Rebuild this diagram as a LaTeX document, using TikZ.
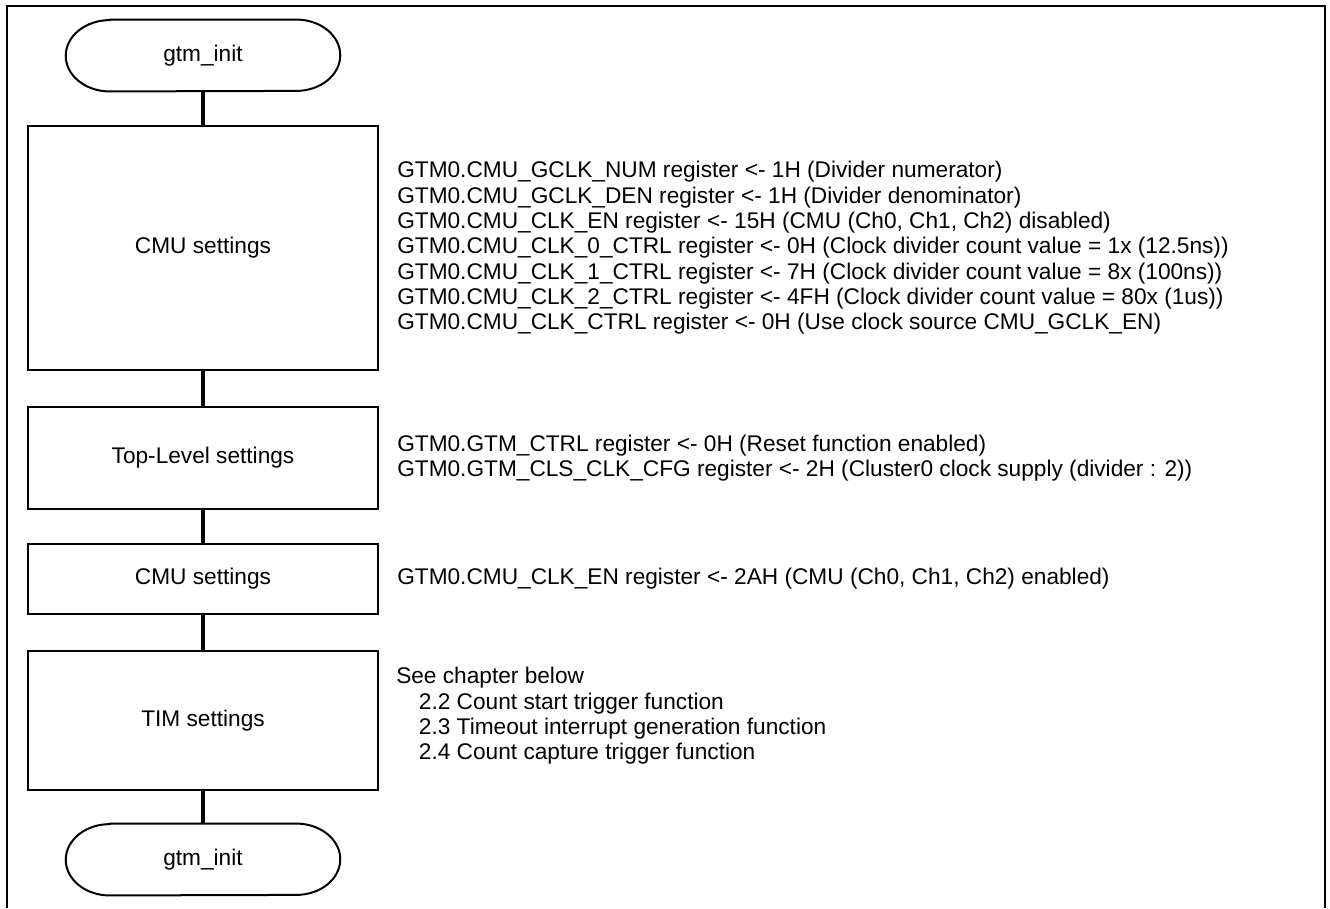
\documentclass[tikz,border=0pt]{standalone}
\usepackage{fontspec}
\setmainfont{Liberation Sans}
\begin{document}
\begin{tikzpicture}[x=0.75pt,y=-0.75pt,
  every node/.style={font=\fontsize{17pt}{19pt}\selectfont, inner sep=0pt},
  procbox/.style={draw, line width=1.5pt, minimum width=262.5pt},
  termshape/.style={minimum width=205.5pt, minimum height=53.5pt},
  link/.style={line width=2.6pt},
  note/.style={anchor=west, align=left}
]
\useasboundingbox (0,0) rectangle (1330,908);

% open frame around the chart
\draw[line width=2.2pt] (7,908) -- (7,6) -- (1325,6) -- (1325,908);

% start and end terminals
\node[termshape] (start) at (203,55.5) {gtm\_init};
\node[termshape] (stop) at (203,859.5) {gtm\_init};
\foreach \t in {start,stop}{
  \draw[line width=1.5pt]
    ([xshift=33pt]\t.north west) -- ([xshift=-33pt]\t.north east)
    arc[start angle=90, end angle=-90, x radius=33pt, y radius=26.75pt]
    -- ([xshift=33pt]\t.south west)
    arc[start angle=270, end angle=90, x radius=33pt, y radius=26.75pt]
    -- cycle;
}

% processing steps
\node[procbox, minimum height=183pt]   (cmu1) at (203,248)   {CMU settings};
\node[procbox, minimum height=76.5pt]  (top)  at (203,458)   {Top-Level settings};
\node[procbox, minimum height=52.5pt]  (cmu2) at (203,579)   {CMU settings};
\node[procbox, minimum height=104.25pt](tim)  at (203,720.5) {TIM settings};

% flow connectors
\draw[link] (start.south) -- (cmu1.north);
\draw[link] (cmu1.south) -- (top.north);
\draw[link] (top.south) -- (cmu2.north);
\draw[link] (cmu2.south) -- (tim.north);
\draw[link] (tim.south) -- (stop.north);

% register notes
\node[note] (n1) at (397,248) {GTM0.CMU\_GCLK\_NUM register <- 1H (Divider numerator)\\
GTM0.CMU\_GCLK\_DEN register <- 1H (Divider denominator)\\
GTM0.CMU\_CLK\_EN register <- 15H (CMU (Ch0, Ch1, Ch2) disabled)\\
GTM0.CMU\_CLK\_0\_CTRL register <- 0H (Clock divider count value = 1x (12.5ns))\\
GTM0.CMU\_CLK\_1\_CTRL register <- 7H (Clock divider count value = 8x (100ns))\\
GTM0.CMU\_CLK\_2\_CTRL register <- 4FH (Clock divider count value = 80x (1us))\\
GTM0.CMU\_CLK\_CTRL register <- 0H (Use clock source CMU\_GCLK\_EN)};
\node[note] (n2) at (397,458) {GTM0.GTM\_CTRL register <- 0H (Reset function enabled)\\
GTM0.GTM\_CLS\_CLK\_CFG register <- 2H (Cluster0 clock supply (divider : 2))};
\node[note] (n3) at (397,579) {GTM0.CMU\_CLK\_EN register <- 2AH (CMU (Ch0, Ch1, Ch2) enabled)};
\node[note] (n4) at (396,716) {See chapter below\\
\hspace*{17pt}2.2 Count start trigger function\\
\hspace*{17pt}2.3 Timeout interrupt generation function\\
\hspace*{17pt}2.4 Count capture trigger function};
\end{tikzpicture}
\end{document}
